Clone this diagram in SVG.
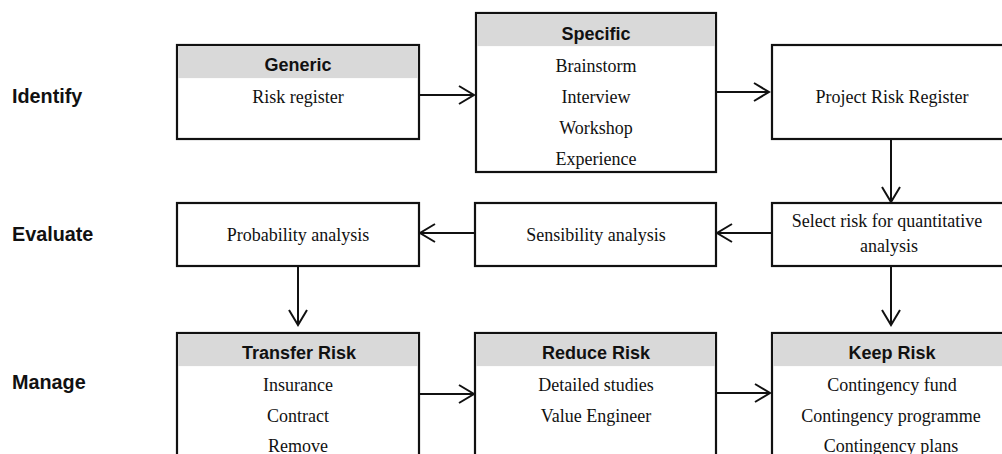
<svg xmlns="http://www.w3.org/2000/svg" width="1002" height="454" viewBox="0 0 1002 454">
  <defs>
    <style>
      .box { fill: #ffffff; stroke: #111111; stroke-width: 2.2; }
      .head { fill: #d9d9d9; stroke: none; }
      .title { font-family: "Liberation Sans", Arial, sans-serif; font-weight: bold; font-size: 18px; fill: #111111; text-anchor: middle; }
      .stage { font-family: "Liberation Sans", Arial, sans-serif; font-weight: bold; font-size: 19.8px; fill: #111111; }
      .item { font-family: "Liberation Serif", "Times New Roman", serif; font-size: 18px; fill: #111111; text-anchor: middle; }
      .link { fill: none; stroke: #111111; stroke-width: 2; marker-end: url(#chevron); }
    </style>
    <marker id="chevron" markerUnits="userSpaceOnUse" markerWidth="20" markerHeight="22" viewBox="-17 -11 19 22" refX="0" refY="0" orient="auto">
      <path d="M-15,-9 L0,0 L-15,9" fill="none" stroke="#111111" stroke-width="2"/>
    </marker>
  </defs>

  <rect width="1002" height="454" fill="#ffffff"/>

  <!-- stage labels -->
  <g id="stages">
    <text class="stage" x="12" y="103">Identify</text>
    <text class="stage" x="12" y="241">Evaluate</text>
    <text class="stage" x="12" y="389">Manage</text>
  </g>

  <!-- Identify row -->
  <g id="generic">
    <rect class="box" x="177" y="45" width="242" height="94"/>
    <rect class="head" x="178.1" y="46.1" width="239.8" height="32"/>
    <text class="title" x="298" y="71">Generic</text>
    <text class="item" x="298" y="103">Risk register</text>
  </g>

  <g id="specific">
    <rect class="box" x="476" y="13" width="240" height="159"/>
    <rect class="head" x="477.1" y="14.1" width="237.8" height="32"/>
    <text class="title" x="596" y="40">Specific</text>
    <text class="item" x="596" y="72">Brainstorm</text>
    <text class="item" x="596" y="103">Interview</text>
    <text class="item" x="596" y="134">Workshop</text>
    <text class="item" x="596" y="165">Experience</text>
  </g>

  <g id="project-register">
    <rect class="box" x="772" y="45" width="245" height="94"/>
    <text class="item" x="892" y="103">Project Risk Register</text>
  </g>

  <!-- Evaluate row -->
  <g id="probability">
    <rect class="box" x="177" y="203" width="242" height="63"/>
    <text class="item" x="298" y="241">Probability analysis</text>
  </g>

  <g id="sensibility">
    <rect class="box" x="475" y="203" width="241" height="63"/>
    <text class="item" x="596" y="241">Sensibility analysis</text>
  </g>

  <g id="select">
    <rect class="box" x="772" y="203" width="245" height="63"/>
    <text class="item" x="887" y="227">Select risk for quantitative</text>
    <text class="item" x="889" y="252">analysis</text>
  </g>

  <!-- Manage row -->
  <g id="transfer">
    <rect class="box" x="177" y="333" width="242" height="140"/>
    <rect class="head" x="178.1" y="334.1" width="239.8" height="32"/>
    <text class="title" x="299" y="359">Transfer Risk</text>
    <text class="item" x="298" y="391">Insurance</text>
    <text class="item" x="298" y="422">Contract</text>
    <text class="item" x="298" y="452">Remove</text>
  </g>

  <g id="reduce">
    <rect class="box" x="475" y="333" width="241" height="140"/>
    <rect class="head" x="476.1" y="334.1" width="238.8" height="32"/>
    <text class="title" x="596" y="359">Reduce Risk</text>
    <text class="item" x="596" y="391">Detailed studies</text>
    <text class="item" x="596" y="422">Value Engineer</text>
  </g>

  <g id="keep">
    <rect class="box" x="772" y="333" width="245" height="140"/>
    <rect class="head" x="773.1" y="334.1" width="243" height="32"/>
    <text class="title" x="892" y="359">Keep Risk</text>
    <text class="item" x="892" y="391">Contingency fund</text>
    <text class="item" x="891" y="422">Contingency programme</text>
    <text class="item" x="891" y="452">Contingency plans</text>
  </g>

  <!-- connectors -->
  <g id="connectors">
    <path class="link" d="M419,95 L474,95"/>
    <path class="link" d="M716,92 L769,92"/>
    <path class="link" d="M891,139 L891,202"/>
    <path class="link" d="M772,233 L717,233"/>
    <path class="link" d="M475,233 L420,233"/>
    <path class="link" d="M298,266 L298,325"/>
    <path class="link" d="M891,266 L891,325"/>
    <path class="link" d="M419,394 L474,394"/>
    <path class="link" d="M716,393 L770,393"/>
  </g>
</svg>
